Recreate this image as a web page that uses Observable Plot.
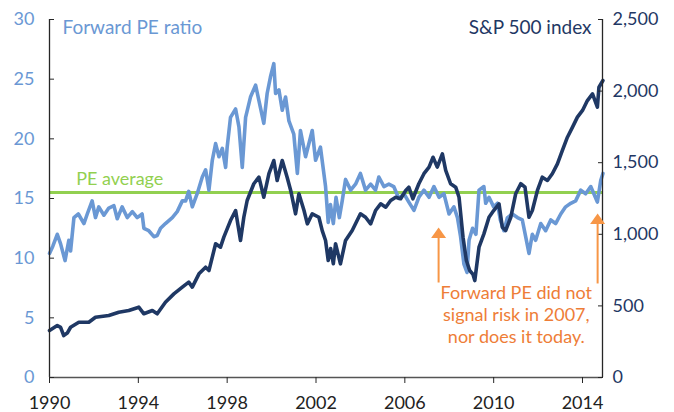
<!DOCTYPE html>
<html><head><meta charset="utf-8">
<script src="https://cdn.jsdelivr.net/npm/d3@7"></script>
<script src="https://cdn.jsdelivr.net/npm/@observablehq/plot@0.6"></script>
<style>html,body{margin:0;padding:0;background:#fff}#chart svg{display:block}</style>
</head><body><div id="chart"></div>
<script>
// Forward PE ratio (left axis)
const peYears = [1990.00,1990.15,1990.35,1990.50,1990.70,1990.87,1990.95,1991.10,1991.30,1991.55,1991.70,1991.92,1992.07,1992.22,1992.45,1992.67,1992.90,1993.05,1993.27,1993.50,1993.73,1993.95,1994.17,1994.25,1994.47,1994.70,1994.85,1995.00,1995.22,1995.53,1995.75,1995.98,1996.13,1996.27,1996.43,1996.65,1996.88,1997.03,1997.18,1997.33,1997.48,1997.63,1997.78,1997.93,1998.00,1998.15,1998.38,1998.53,1998.68,1998.83,1999.05,1999.28,1999.43,1999.65,1999.80,1999.95,2000.10,2000.18,2000.33,2000.48,2000.63,2000.78,2001.00,2001.16,2001.30,2001.53,2001.83,2001.98,2002.20,2002.43,2002.55,2002.65,2002.78,2002.90,2003.05,2003.18,2003.33,2003.56,2003.78,2004.00,2004.23,2004.46,2004.68,2004.83,2005.06,2005.28,2005.50,2005.73,2005.96,2006.18,2006.41,2006.63,2006.86,2007.09,2007.31,2007.54,2007.76,2007.99,2008.21,2008.37,2008.51,2008.66,2008.80,2008.89,2009.05,2009.20,2009.34,2009.56,2009.64,2009.79,2010.00,2010.17,2010.30,2010.46,2010.62,2010.84,2011.07,2011.29,2011.44,2011.59,2011.74,2011.89,2012.12,2012.34,2012.57,2012.79,2013.02,2013.24,2013.47,2013.69,2013.92,2014.14,2014.37,2014.67,2014.82,2014.92];
const peValues = [10.4,11.0,12.0,11.2,9.8,11.5,10.6,13.4,13.7,12.9,13.7,14.8,13.4,14.3,13.6,14.2,14.4,13.3,14.3,13.4,13.9,13.4,13.7,12.5,12.3,11.8,11.9,12.5,12.9,13.4,13.9,14.8,14.8,15.6,14.3,15.4,16.8,17.4,15.7,18.2,19.6,18.5,19.2,17.6,19.3,21.8,22.5,21.0,17.6,21.8,23.5,24.5,23.2,21.3,23.8,25.2,26.3,23.8,24.1,22.4,23.5,21.5,20.4,17.1,20.7,18.5,20.7,18.2,19.3,16.0,13.0,14.5,12.9,15.1,13.4,14.8,16.6,15.7,16.2,17.1,15.7,16.2,15.7,16.8,16.0,16.2,16.0,15.0,15.4,14.7,14.0,15.1,15.7,15.1,16.0,15.1,15.4,13.7,14.3,13.4,11.8,9.5,8.8,11.5,12.5,12.0,15.7,16.0,14.6,15.1,14.3,14.6,13.2,12.3,13.4,13.7,13.4,13.2,11.8,10.4,12.0,11.5,12.9,12.3,13.2,12.9,13.7,14.3,14.6,14.8,15.7,15.4,16.0,14.7,16.5,17.1];
// S&P 500 index (right axis)
const spYears = [1990.00,1990.35,1990.50,1990.64,1990.80,1990.95,1991.32,1991.77,1992.07,1992.67,1993.12,1993.57,1994.02,1994.25,1994.63,1994.85,1995.22,1995.60,1995.98,1996.27,1996.43,1996.73,1997.03,1997.18,1997.48,1997.70,1997.85,1998.15,1998.38,1998.60,1998.75,1998.90,1999.20,1999.43,1999.65,1999.88,2000.10,2000.25,2000.48,2000.70,2000.86,2001.08,2001.23,2001.46,2001.61,2001.83,2002.13,2002.28,2002.43,2002.55,2002.66,2002.78,2002.88,2003.10,2003.33,2003.63,2004.00,2004.23,2004.46,2004.68,2004.91,2005.14,2005.36,2005.59,2005.81,2006.04,2006.18,2006.36,2006.63,2006.86,2007.09,2007.27,2007.46,2007.69,2007.84,2008.06,2008.29,2008.44,2008.62,2008.77,2008.92,2009.07,2009.15,2009.34,2009.56,2009.79,2010.00,2010.24,2010.39,2010.54,2010.77,2010.99,2011.22,2011.41,2011.59,2011.74,2011.97,2012.19,2012.42,2012.64,2012.87,2013.09,2013.32,2013.55,2013.77,2014.00,2014.22,2014.45,2014.67,2014.74,2014.92];
const spValues = [328,363,350,293,310,351,386,386,421,433,456,468,491,445,468,445,526,584,631,666,631,724,770,747,934,910,980,1096,1166,957,1119,1236,1353,1399,1259,1423,1515,1376,1515,1399,1306,1143,1283,1166,1073,1143,1119,1026,957,817,900,794,934,794,957,1026,1143,1119,1073,1166,1213,1189,1236,1259,1248,1306,1329,1248,1353,1423,1469,1538,1469,1562,1446,1353,1329,1259,980,817,747,720,677,910,1003,1119,1166,1213,1050,1026,1119,1283,1353,1329,1119,1166,1306,1399,1376,1423,1492,1585,1678,1748,1818,1865,1934,1981,1888,2027,2074];

const xTicks = [1990,1994,1998,2002,2006,2010,2014];
const peTicks = [0,5,10,15,20,25,30];
const spTicks = [0,500,1000,1500,2000,2500];
const xDomain = [1990, 2014.9];
const peDomain = [0, 30];
const spDomain = [0, 2500];
const peAverage = 15.5;

const titleLeft = "Forward PE ratio";
const titleRight = "S&P 500 index";
const avgLabel = ["PE average"];
const avgLabelPos = {x: 1991.2, y: 16.15};
const noteText = "Forward PE did not\nsignal risk in 2007,\nnor does it today.";
const notePos = {x: 2011.02, y: 7.85};
const arrowX = [2007.52, 2014.68];
const arrowTop = [12.57, 13.75];
const arrowBottom = [7.96, 7.88];

const lightBlue = "#6a98d4";
const navy = "#1f3864";
const green = "#92d050";
const orange = "#f79646";
const orangeText = "#ee7d37";
const axisColor = "#262626";

const k = peDomain[1] / spDomain[1];
const pe = peYears.map((x, i) => ({x, y: peValues[i]}));
const sp = spYears.map((x, i) => ({x, y: spValues[i] * k}));
const arrows = arrowX.map((x, i) => ({x, top: arrowTop[i], shaftTop: arrowTop[i] - 0.5, bottom: arrowBottom[i]}));
const headSymbol = {draw(ctx) { ctx.moveTo(0, 0); ctx.lineTo(7.5, 10.5); ctx.lineTo(-7.5, 10.5); ctx.closePath(); }};

const chart = Plot.plot({
  width: 674, height: 412,
  marginLeft: 49, marginRight: 72, marginTop: 19, marginBottom: 35,
  style: {fontFamily: "Lato, 'Open Sans', sans-serif", fontSize: "18px", background: "#fff", overflow: "visible"},
  x: {domain: xDomain},
  y: {domain: peDomain},
  marks: [
    Plot.ruleY([peAverage], {stroke: green, strokeWidth: 3}),
    Plot.line(pe, {x: "x", y: "y", stroke: lightBlue, strokeWidth: 3.6, strokeLinejoin: "round"}),
    Plot.line(sp, {x: "x", y: "y", stroke: navy, strokeWidth: 3.6, strokeLinejoin: "round"}),
    Plot.ruleX(xDomain, {stroke: axisColor, strokeWidth: 1.3}),
    Plot.ruleY([peDomain[0]], {stroke: "#555", strokeWidth: 1.3}),
    Plot.axisY(peTicks, {anchor: "left", tickSize: -5, tickPadding: 20, stroke: axisColor, fill: lightBlue, fontSize: 18, label: null}),
    Plot.axisY(spTicks.map(d => d * k), {anchor: "right", tickSize: -5, tickPadding: 15, stroke: axisColor, fill: navy, fontSize: 18, label: null, tickFormat: d => d3.format(",")(Math.round(d / k))}),
    Plot.axisX(xTicks, {anchor: "bottom", tickSize: 6, tickPadding: 13, stroke: axisColor, fill: "#222", fontSize: 18, label: null, tickFormat: d => String(d)}),
    Plot.text([titleLeft], {frameAnchor: "top-left", dx: 13, dy: 1, lineAnchor: "top", textAnchor: "start", fill: lightBlue, fontSize: 19}),
    Plot.text([titleRight], {frameAnchor: "top-right", dx: -11, dy: 1, lineAnchor: "top", textAnchor: "end", fill: navy, fontSize: 19}),
    Plot.text(avgLabel, {x: () => avgLabelPos.x, y: () => avgLabelPos.y, text: d => d, textAnchor: "start", lineAnchor: "bottom", fill: green, fontSize: 18}),
    Plot.link(arrows, {x1: "x", x2: "x", y1: "bottom", y2: "shaftTop", stroke: orange, strokeWidth: 2}),
    Plot.dot(arrows, {x: "x", y: "top", symbol: headSymbol, fill: orange, stroke: null, r: 5}),
    Plot.text([noteText], {x: () => notePos.x, y: () => notePos.y, text: d => d, textAnchor: "middle", lineAnchor: "top", lineHeight: 1.22, fill: orangeText, fontSize: 18})
  ]
});
document.getElementById("chart").appendChild(chart);
</script>
</body></html>
